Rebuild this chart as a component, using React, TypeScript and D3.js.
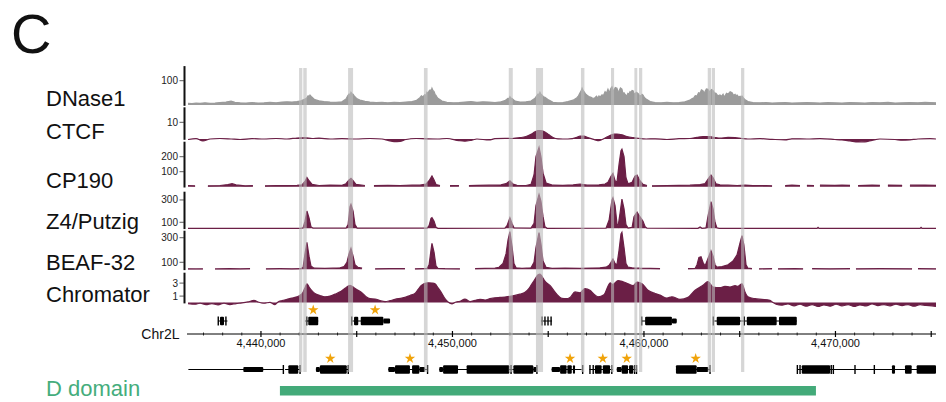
import * as d3 from 'd3';

type Pt = [number, number | null];
type Feature = [string, number, number];

// genomic window shown (kb on Chr2L)
const windowKb: [number, number] = [4436.19, 4475.25];

const trackLabels = ['DNase1', 'CTCF', 'CP190', 'Z4/Putzig', 'BEAF-32', 'Chromator'];

const dnase1Ticks = [100];
const ctcfTicks = [10];
const cp190Ticks = [100, 200];
const z4Ticks = [100, 300];
const beafTicks = [100, 300];
const chromatorTicks = [1, 3];

// [kb, signal]; null = no data
const dnase1Signal: Pt[] = [
  [4436.19, 7], [4436.40, 6], [4436.61, 8], [4436.82, 7], [4437.08, 9], [4437.34, 7], [4437.60, 8], [4437.86, 10],
  [4438.17, 12], [4438.44, 16], [4438.64, 11], [4438.91, 9], [4439.22, 8], [4439.53, 10], [4439.85, 8], [4440.16, 9],
  [4440.47, 11], [4440.79, 9], [4441.10, 12], [4441.36, 13], [4441.62, 12], [4441.88, 14], [4442.09, 17], [4442.30, 24],
  [4442.40, 30], [4442.46, 38], [4442.51, 33], [4442.56, 41], [4442.62, 35], [4442.67, 32], [4442.75, 26], [4442.82, 22],
  [4443.03, 17], [4443.29, 14], [4443.61, 12], [4443.92, 11], [4444.23, 13], [4444.44, 25], [4444.53, 38], [4444.60, 45],
  [4444.65, 40], [4444.70, 52], [4444.76, 46], [4444.81, 44], [4444.88, 36], [4444.96, 30], [4445.05, 24], [4445.17, 20],
  [4445.43, 15], [4445.69, 12], [4446.01, 10], [4446.32, 11], [4446.63, 9], [4446.95, 11], [4447.26, 10], [4447.57, 12],
  [4447.89, 14], [4448.10, 18], [4448.20, 24], [4448.30, 30], [4448.38, 38], [4448.46, 33], [4448.55, 42], [4448.62, 40],
  [4448.67, 52], [4448.72, 47], [4448.78, 58], [4448.83, 62], [4448.88, 56], [4448.93, 69], [4448.98, 60], [4449.04, 55],
  [4449.09, 44], [4449.14, 40], [4449.19, 32], [4449.24, 28], [4449.45, 16], [4449.71, 11], [4450.03, 9], [4450.34, 10],
  [4450.65, 12], [4450.97, 14], [4451.28, 11], [4451.59, 13], [4451.91, 12], [4452.22, 10], [4452.53, 13], [4452.74, 18],
  [4452.90, 28], [4452.95, 24], [4453.00, 34], [4453.05, 29], [4453.11, 27], [4453.27, 16], [4453.53, 12], [4453.84, 13],
  [4454.10, 16], [4454.31, 28], [4454.40, 38], [4454.47, 45], [4454.52, 40], [4454.57, 52], [4454.62, 44], [4454.68, 40],
  [4454.75, 34], [4454.83, 32], [4455.04, 20], [4455.25, 11], [4455.51, 9], [4455.77, 10], [4456.03, 14], [4456.30, 20],
  [4456.50, 30], [4456.58, 38], [4456.66, 50], [4456.72, 58], [4456.77, 69], [4456.82, 60], [4456.87, 55], [4456.95, 46],
  [4457.03, 40], [4457.12, 35], [4457.24, 32], [4457.34, 27], [4457.44, 30], [4457.52, 36], [4457.60, 28], [4457.65, 37],
  [4457.72, 33], [4457.81, 42], [4457.88, 38], [4457.97, 55], [4458.04, 48], [4458.12, 65], [4458.18, 52], [4458.23, 60],
  [4458.28, 70], [4458.33, 75], [4458.39, 58], [4458.44, 62], [4458.50, 72], [4458.59, 69], [4458.64, 55], [4458.70, 58],
  [4458.77, 70], [4458.85, 65], [4458.90, 48], [4458.96, 50], [4459.03, 42], [4459.11, 37], [4459.16, 48], [4459.22, 45],
  [4459.27, 55], [4459.32, 52], [4459.38, 60], [4459.43, 59], [4459.48, 47], [4459.53, 45], [4459.60, 52], [4459.69, 48],
  [4459.76, 40], [4459.85, 38], [4459.90, 44], [4459.95, 41], [4460.03, 30], [4460.11, 25], [4460.32, 14], [4460.58, 10],
  [4460.89, 9], [4461.20, 11], [4461.52, 9], [4461.83, 10], [4462.14, 13], [4462.40, 20], [4462.50, 26], [4462.61, 30],
  [4462.68, 38], [4462.77, 37], [4462.85, 50], [4462.93, 48], [4463.00, 62], [4463.08, 59], [4463.13, 50], [4463.19, 55],
  [4463.26, 66], [4463.34, 65], [4463.40, 54], [4463.45, 58], [4463.53, 64], [4463.61, 59], [4463.68, 50], [4463.76, 48],
  [4463.86, 38], [4463.97, 41], [4464.05, 36], [4464.13, 44], [4464.18, 34], [4464.23, 37], [4464.31, 48], [4464.39, 45],
  [4464.50, 55], [4464.60, 51], [4464.68, 40], [4464.76, 44], [4464.81, 36], [4464.86, 41], [4464.94, 33], [4465.02, 36],
  [4465.07, 30], [4465.12, 37], [4465.20, 28], [4465.28, 22], [4465.43, 14], [4465.69, 10], [4466.06, 9], [4466.37, 10],
  [4466.69, 8], [4467.00, 9], [4467.37, 10], [4467.73, 8], [4468.15, 9], [4468.51, 10], [4468.88, 9], [4469.19, 8],
  [4469.61, 10], [4469.97, 9], [4470.34, 8], [4470.76, 10], [4471.18, 9], [4471.54, 8], [4471.91, 10], [4472.32, 9],
  [4472.74, 11], [4473.11, 8], [4473.48, 9], [4473.89, 10], [4474.31, 9], [4474.68, 11], [4474.94, 10], [4475.25, 9],
];

const ctcfSignal: Pt[] = [
  [4436.19, -0.3], [4436.61, 0.2], [4436.97, -1.2], [4437.34, 0], [4437.86, 0.3], [4438.44, 0], [4438.91, -0.3],
  [4439.53, 0.2], [4440.16, 0], [4440.79, 0.3], [4441.36, 0], [4441.88, 0.6], [4442.30, 0.8], [4442.67, 0.3],
  [4443.03, 0.5], [4443.61, 0], [4444.23, 0.2], [4444.96, 0], [4445.69, 0.3], [4446.32, 0], [4446.63, -0.8],
  [4446.95, -1.6], [4447.26, -1.4], [4447.57, -0.3], [4448.10, 0.3], [4448.62, 0.1], [4449.24, 0], [4449.71, 0.3],
  [4450.34, -1.0], [4450.65, -1.3], [4450.97, -0.8], [4451.28, 0], [4451.91, -0.6], [4452.22, 0.2], [4452.74, 0.4],
  [4453.11, 0.3], [4453.53, 0.8], [4453.84, 1.5], [4454.10, 2.8], [4454.31, 4.3], [4454.47, 5.0], [4454.57, 5.0],
  [4454.83, 4.2], [4455.04, 2.5], [4455.25, 0.9], [4455.51, 0.1], [4456.03, 0], [4456.50, 1.0], [4456.66, 1.8],
  [4456.87, 1.7], [4457.03, 1.0], [4457.24, 0.2], [4457.44, -0.5], [4457.65, -1.0], [4457.81, -0.3], [4458.12, 1.5],
  [4458.44, 2.9], [4458.59, 3.0], [4458.85, 2.5], [4459.11, 1.5], [4459.43, 0.8], [4459.69, 0.4], [4460.11, 0],
  [4460.58, 0.1], [4461.20, -0.3], [4461.83, 0.2], [4462.40, 0.3], [4462.77, 1.0], [4463.08, 1.5], [4463.45, 1.4],
  [4463.76, 0.8], [4463.97, 0.5], [4464.39, 1.0], [4464.76, 0.9], [4465.12, 0.3], [4465.43, 0], [4466.06, 0.2],
  [4466.69, -0.2], [4467.37, -0.5], [4467.73, 0.1], [4468.51, 0], [4469.19, 0.2], [4469.97, -0.3], [4470.34, -0.6],
  [4470.76, -1.2], [4471.18, -1.8], [4471.54, -1.7], [4471.91, -0.8], [4472.32, 0], [4473.11, -0.3], [4473.48, -0.7],
  [4473.89, -0.5], [4474.31, 0], [4474.94, 0.2], [4475.25, 0],
];

const cp190Signal: Pt[] = [
  [4436.19, 8], [4436.56, 6], [4436.87, null], [4437.23, 6], [4437.86, 8], [4438.28, 14], [4438.49, 20], [4438.70, 12],
  [4439.17, 6], [4439.58, 7], [4439.90, null], [4440.21, 6], [4440.79, 8], [4441.36, 7], [4441.88, 9], [4442.14, 12],
  [4442.30, 35], [4442.40, 62], [4442.51, 40], [4442.67, 15], [4443.03, 8], [4443.61, 10], [4444.23, 9], [4444.44, 20],
  [4444.60, 45], [4444.70, 56], [4444.81, 40], [4444.96, 15], [4445.43, 8], [4445.64, null], [4445.90, 7], [4446.63, 9],
  [4447.26, 8], [4447.89, 10], [4448.30, 10], [4448.62, 18], [4448.78, 40], [4448.93, 71], [4449.04, 45], [4449.14, 14],
  [4449.35, 8], [4449.61, null], [4449.87, 7], [4450.34, 8], [4450.60, null], [4450.86, 7], [4451.28, 9], [4451.91, 10],
  [4452.53, 12], [4452.80, 20], [4453.00, 40], [4453.16, 18], [4453.37, 9], [4453.84, 8], [4454.10, 15], [4454.26, 80],
  [4454.36, 200], [4454.52, 262], [4454.62, 200], [4454.73, 90], [4454.89, 25], [4455.25, 10], [4455.77, 9],
  [4456.30, 12], [4456.66, 18], [4457.03, 10], [4457.65, 12], [4457.97, 18], [4458.12, 30], [4458.28, 70],
  [4458.38, 89], [4458.49, 40], [4458.59, 30], [4458.70, 150], [4458.80, 240], [4458.85, 250], [4458.96, 200],
  [4459.06, 60], [4459.17, 20], [4459.38, 30], [4459.53, 70], [4459.64, 78], [4459.79, 40], [4459.95, 15], [4460.16, 8],
  [4460.29, null], [4460.42, 6], [4461.20, 8], [4461.83, 9], [4462.40, 10], [4462.93, 14], [4463.19, 20], [4463.40, 60],
  [4463.50, 78], [4463.61, 60], [4463.76, 20], [4463.97, 12], [4464.39, 10], [4464.86, 8], [4465.28, 10], [4465.69, 7],
  [4466.37, 8], [4466.69, 6], [4467.00, null], [4467.37, 7], [4467.73, 10], [4468.15, 8], [4468.33, null], [4468.51, 9],
  [4468.88, 8], [4469.04, null], [4469.19, 10], [4469.97, 9], [4470.34, 11], [4470.76, 9], [4470.97, null], [4471.18, 8],
  [4471.91, 10], [4472.32, 9], [4472.54, null], [4472.74, 11], [4473.48, 9], [4473.68, null], [4473.89, 10],
  [4474.68, 11], [4475.25, 9],
];

const z4Signal: Pt[] = [
  [4436.19, 46], [4442.04, 46], [4442.20, 50], [4442.30, 110], [4442.40, 201], [4442.51, 140], [4442.61, 60],
  [4442.72, 47], [4444.44, 47], [4444.55, 80], [4444.65, 240], [4444.70, 261], [4444.81, 200], [4444.91, 80],
  [4445.02, 48], [4448.67, 47], [4448.78, 70], [4448.88, 135], [4448.93, 141], [4449.04, 110], [4449.14, 55],
  [4449.24, 46], [4452.74, 47], [4452.85, 70], [4453.00, 141], [4453.11, 90], [4453.21, 50], [4454.10, 48],
  [4454.26, 90], [4454.36, 250], [4454.52, 350], [4454.62, 290], [4454.73, 150], [4454.83, 60], [4454.94, 46],
  [4458.02, 47], [4458.18, 120], [4458.33, 300], [4458.38, 320], [4458.49, 250], [4458.59, 90], [4458.65, 65],
  [4458.75, 180], [4458.85, 308], [4458.96, 220], [4459.06, 80], [4459.17, 48], [4459.38, 55], [4459.48, 150],
  [4459.64, 192], [4459.79, 150], [4459.95, 110], [4460.06, 60], [4460.16, 47], [4462.82, 46], [4462.93, 58],
  [4463.03, 46], [4463.24, 50], [4463.34, 150], [4463.50, 284], [4463.61, 220], [4463.71, 100], [4463.81, 50],
  [4463.92, 46], [4469.04, 46], [4469.09, 55], [4469.14, 46], [4474.42, 46], [4474.47, 55], [4474.52, 46],
  [4475.25, 46],
];

const beafSignal: Pt[] = [
  [4436.19, 47], [4436.61, 46], [4436.97, 47], [4437.29, null], [4437.60, 46], [4438.38, 48], [4438.91, 47],
  [4439.43, 48], [4439.85, null], [4440.26, 47], [4440.99, 48], [4441.62, 47], [4442.09, 48], [4442.20, 60],
  [4442.30, 170], [4442.40, 262], [4442.51, 150], [4442.61, 70], [4442.77, 52], [4443.34, 50], [4443.76, 52],
  [4444.13, 55], [4444.34, 65], [4444.49, 100], [4444.60, 170], [4444.70, 214], [4444.81, 150], [4444.91, 80],
  [4445.07, 58], [4445.28, 52], [4445.59, null], [4445.96, 47], [4446.74, 49], [4447.52, 48], [4447.78, null],
  [4448.04, 47], [4448.46, 49], [4448.67, 50], [4448.78, 80], [4448.88, 200], [4448.93, 254], [4449.04, 180],
  [4449.14, 70], [4449.24, 50], [4449.61, 48], [4450.39, 47], [4450.81, null], [4451.18, 48], [4451.70, 50],
  [4452.22, 52], [4452.43, 60], [4452.64, 90], [4452.80, 170], [4452.90, 280], [4453.00, 349], [4453.11, 230],
  [4453.21, 90], [4453.32, 55], [4453.63, 50], [4454.10, 55], [4454.26, 100], [4454.36, 220], [4454.52, 341],
  [4454.62, 250], [4454.73, 110], [4454.89, 58], [4455.20, 50], [4455.88, 52], [4456.66, 51], [4457.29, 53],
  [4457.70, 55], [4458.02, 60], [4458.18, 75], [4458.28, 100], [4458.38, 127], [4458.49, 90], [4458.59, 80],
  [4458.70, 200], [4458.80, 330], [4458.85, 344], [4458.96, 220], [4459.06, 90], [4459.17, 60], [4459.38, 55],
  [4459.79, 52], [4460.32, 50], [4460.84, 48], [4462.04, null], [4462.30, 48], [4462.67, 50], [4462.77, 80],
  [4462.87, 140], [4462.98, 145], [4463.08, 100], [4463.19, 70], [4463.34, 130], [4463.50, 194], [4463.61, 150],
  [4463.71, 80], [4463.81, 60], [4464.08, 65], [4464.39, 80], [4464.65, 110], [4464.86, 160], [4465.02, 260],
  [4465.12, 316], [4465.22, 240], [4465.33, 80], [4465.43, 52], [4465.64, 48], [4465.80, null], [4466.01, 47],
  [4466.69, 48], [4466.84, null], [4467.00, 47], [4467.89, 48], [4468.31, 47], [4468.57, null], [4468.78, 48],
  [4469.72, 47], [4470.76, 48], [4470.92, null], [4471.07, 47], [4472.32, 48], [4474.00, 47], [4474.15, null],
  [4474.31, 48], [4475.25, 47],
];

const chromatorSignal: Pt[] = [
  [4436.19, -0.15], [4436.56, -0.25], [4436.82, -0.1], [4437.13, -0.3], [4437.44, -0.15], [4437.76, -0.35],
  [4438.07, -0.1], [4438.38, -0.3], [4438.70, -0.15], [4439.01, -0.05], [4439.32, 0.1], [4439.64, 0.35],
  [4439.85, 0.1], [4440.16, -0.1], [4440.47, 0.05], [4440.73, -0.3], [4440.89, 0.1], [4441.10, 0.3], [4441.36, 0.5],
  [4441.62, 0.7], [4441.83, 0.85], [4442.04, 1.15], [4442.20, 1.6], [4442.30, 2.3], [4442.40, 2.9], [4442.51, 2.4],
  [4442.67, 1.8], [4442.82, 1.4], [4443.08, 1.1], [4443.34, 0.9], [4443.61, 1.0], [4443.87, 1.3], [4444.13, 1.65],
  [4444.39, 2.2], [4444.65, 2.65], [4444.86, 2.3], [4445.07, 1.9], [4445.28, 1.5], [4445.49, 0.9], [4445.69, 0.6],
  [4445.96, 0.55], [4446.22, 0.3], [4446.48, 0.15], [4446.74, 0.3], [4447.00, 0.5], [4447.26, 0.65], [4447.52, 0.8],
  [4447.78, 1.1], [4448.04, 1.4], [4448.20, 2.0], [4448.36, 2.6], [4448.51, 2.9], [4448.72, 3.05], [4448.93, 3.0],
  [4449.09, 2.9], [4449.24, 2.3], [4449.45, 1.4], [4449.61, 0.6], [4449.77, 0.1], [4449.98, -0.2], [4450.19, 0.1],
  [4450.39, 0.2], [4450.65, 0.55], [4450.92, 0.15], [4451.18, 0.35], [4451.44, 0.5], [4451.70, 0.4], [4451.96, 0.6],
  [4452.22, 0.75], [4452.48, 0.8], [4452.74, 0.85], [4453.00, 0.95], [4453.27, 1.1], [4453.53, 1.3], [4453.79, 1.6],
  [4454.00, 2.2], [4454.15, 2.9], [4454.31, 3.6], [4454.47, 4.3], [4454.57, 4.4], [4454.68, 4.0], [4454.83, 3.3],
  [4455.09, 2.65], [4455.41, 1.4], [4455.72, 0.65], [4455.93, 0.6], [4456.14, 0.8], [4456.40, 1.65], [4456.66, 1.5],
  [4456.92, 2.15], [4457.18, 1.9], [4457.39, 1.3], [4457.60, 0.9], [4457.91, 1.2], [4458.12, 2.5], [4458.23, 3.05],
  [4458.38, 2.8], [4458.65, 3.4], [4458.91, 3.2], [4459.17, 2.9], [4459.43, 2.6], [4459.64, 3.15], [4459.90, 2.9],
  [4460.21, 1.9], [4460.58, 1.4], [4460.84, 1.15], [4461.20, 0.7], [4461.46, 0.9], [4461.88, 0.5], [4462.30, 0.8],
  [4462.67, 1.9], [4462.93, 2.4], [4463.08, 2.65], [4463.34, 3.25], [4463.61, 2.4], [4463.97, 2.3], [4464.23, 2.5],
  [4464.49, 2.4], [4464.76, 2.6], [4464.91, 2.5], [4465.12, 2.9], [4465.28, 1.6], [4465.43, 0.9], [4465.80, 0.6],
  [4466.16, 0.5], [4466.58, 0.35], [4466.74, 0.0], [4466.90, -0.25], [4467.21, -0.4], [4467.52, -0.2],
  [4467.84, -0.5], [4468.15, -0.25], [4468.46, -0.55], [4468.78, -0.3], [4469.09, -0.6], [4469.40, -0.35],
  [4469.72, -0.55], [4470.03, -0.25], [4470.34, -0.5], [4470.66, -0.3], [4470.97, -0.6], [4471.28, -0.35],
  [4471.60, -0.5], [4471.91, -0.2], [4472.22, -0.45], [4472.54, -0.3], [4472.85, -0.5], [4473.16, -0.25],
  [4473.48, -0.45], [4473.79, -0.3], [4474.10, -0.55], [4474.42, -0.3], [4474.73, -0.45], [4475.04, -0.5],
  [4475.25, -0.6],
];

// highlighted boundary regions [startKb, endKb]
const highlightRegions: [number, number][] = [
  [4441.99, 4442.16], [4442.21, 4442.39], [4444.55, 4444.81], [4448.51, 4448.70], [4452.94, 4453.15],
  [4454.36, 4454.73], [4456.71, 4456.89], [4458.28, 4458.44], [4459.50, 4459.65], [4459.74, 4459.91],
  [4463.33, 4463.50], [4463.54, 4463.71], [4465.07, 4465.24],
];

// gene models: [kind, startKb, endKb]
const upperGenes: Feature[] = [
  ['line', 4437.76, 4438.25], ['tick', 4437.77, 4437.77], ['exon', 4437.86, 4438.07], ['tick', 4438.17, 4438.17],
  ['line', 4442.30, 4442.99], ['tick', 4442.39, 4442.39], ['exon', 4442.47, 4442.99],
  ['line', 4444.74, 4446.74], ['tick', 4444.74, 4444.74], ['exon', 4444.86, 4445.08], ['exon', 4445.21, 4446.39],
  ['utr', 4446.39, 4446.74],
  ['line', 4454.62, 4455.20], ['tick', 4454.68, 4454.68], ['tick', 4454.83, 4454.83], ['tick', 4454.99, 4454.99],
  ['tick', 4455.15, 4455.15],
  ['line', 4459.88, 4461.71], ['tick', 4459.88, 4459.88], ['exon', 4460.06, 4461.46], ['utr', 4461.46, 4461.71],
  ['line', 4463.62, 4467.98], ['tick', 4463.62, 4463.62], ['exon', 4463.80, 4465.02], ['tick', 4465.24, 4465.24],
  ['exon', 4465.37, 4466.93], ['exon', 4467.05, 4467.98],
];

const lowerGenes: Feature[] = [
  ['line', 4436.21, 4441.17], ['utr', 4439.08, 4440.12], ['tick', 4441.17, 4441.17],
  ['line', 4441.26, 4442.04], ['exon', 4441.43, 4441.95], ['tick', 4442.04, 4442.04],
  ['line', 4442.87, 4444.56], ['utr', 4442.87, 4443.08], ['exon', 4443.08, 4444.48], ['tick', 4444.56, 4444.56],
  ['line', 4446.65, 4448.70], ['utr', 4446.65, 4447.00], ['exon', 4447.00, 4447.78], ['exon', 4447.89, 4448.27],
  ['utr', 4448.27, 4448.57], ['tick', 4448.70, 4448.70],
  ['line', 4449.31, 4454.41], ['utr', 4449.31, 4449.51], ['exon', 4449.51, 4450.29], ['exon', 4450.74, 4452.97],
  ['tick', 4453.06, 4453.06], ['exon', 4453.18, 4454.22], ['utr', 4454.22, 4454.40], ['tick', 4454.41, 4454.41],
  ['line', 4455.18, 4456.80], ['utr', 4455.18, 4455.62], ['exon', 4455.62, 4455.96], ['exon', 4456.00, 4456.23],
  ['exon', 4456.29, 4456.40], ['tick', 4456.80, 4456.80],
  ['line', 4457.15, 4458.37], ['tick', 4457.18, 4457.18], ['tick', 4457.35, 4457.35], ['exon', 4457.44, 4457.79],
  ['exon', 4457.85, 4458.23], ['tick', 4458.32, 4458.32],
  ['line', 4458.58, 4459.64], ['utr', 4458.58, 4458.84], ['exon', 4458.84, 4459.17], ['exon', 4459.22, 4459.44],
  ['tick', 4459.51, 4459.51], ['tick', 4459.61, 4459.61],
  ['line', 4461.67, 4463.45], ['exon', 4461.67, 4462.75], ['utr', 4462.75, 4463.36], ['tick', 4463.45, 4463.45],
  ['line', 4468.01, 4475.25], ['tick', 4468.01, 4468.01], ['tick', 4468.15, 4468.15], ['exon', 4468.24, 4469.72],
  ['tick', 4469.78, 4469.78], ['tick', 4469.89, 4469.89], ['tick', 4471.02, 4471.02], ['tick', 4472.03, 4472.03],
  ['exon', 4472.95, 4473.11], ['exon', 4473.63, 4473.98], ['exon', 4474.24, 4475.25],
];

const upperStars = [4442.73, 4445.96];
const lowerStars = [4443.62, 4447.78, 4456.14, 4457.85, 4459.10, 4462.70];

const axisLabelKb = [4440, 4450, 4460, 4470];
const dDomainKb: [number, number] = [4440.99, 4468.98];

const MAROON = '#6b1f46';
const FONT = "'Liberation Sans', Arial, Helvetica, sans-serif";

export default function App() {
  const x = d3.scaleLinear().domain(windowKb).range([188, 936]);

  const tracks = [
    { label: trackLabels[0], data: dnase1Signal, domain: [0, 160], range: [105, 66.1], base: 0, ticks: dnase1Ticks, color: '#9b9b9b', labelY: 106, curve: d3.curveLinear },
    { label: trackLabels[1], data: ctcfSignal, domain: [0, 19], range: [139, 107.3], base: 0, ticks: ctcfTicks, color: MAROON, labelY: 138.5, curve: d3.curveMonotoneX },
    { label: trackLabels[2], data: cp190Signal, domain: [0, 300], range: [186.7, 141.7], base: 0, ticks: cp190Ticks, color: MAROON, labelY: 188, curve: d3.curveLinear },
    { label: trackLabels[3], data: z4Signal, domain: [46, 374], range: [228.3, 191.7], base: 46, ticks: z4Ticks, color: MAROON, labelY: 229, curve: d3.curveLinear },
    { label: trackLabels[4], data: beafSignal, domain: [43, 357], range: [269.3, 230.7], base: 43, ticks: beafTicks, color: MAROON, labelY: 270, curve: d3.curveLinear },
    { label: trackLabels[5], data: chromatorSignal, domain: [0, 4.6], range: [302.6, 272.7], base: 0, ticks: chromatorTicks, color: MAROON, labelY: 302, curve: d3.curveMonotoneX },
  ];

  const axisY = 334;
  const minorTicks = d3.range(4437, 4476, 1);
  const fmt = d3.format(',');
  const star = d3.symbol(d3.symbolStar, 34)() as string;

  const drawGenes = (feats: Feature[], cy: number, key: string) =>
    feats.map((f, i) => {
      const [kind, s, e] = f;
      if (kind === 'line') {
        return <line key={key + i} x1={x(s)} x2={x(e)} y1={cy} y2={cy} stroke="#000" strokeWidth={1} />;
      }
      if (kind === 'tick') {
        return <rect key={key + i} x={x(s) - 0.7} y={cy - 4.5} width={1.4} height={9} fill="#000" />;
      }
      const h = kind === 'exon' ? 8.5 : 5;
      return <rect key={key + i} x={x(s)} y={cy - h / 2} width={Math.max(0.8, x(e) - x(s))} height={h} rx={1} fill="#000" />;
    });

  return (
    <svg width={946} height={402} style={{ position: 'absolute', left: 0, top: 0, background: '#fff' }} fontFamily={FONT}>
      <rect width={946} height={402} fill="#fff" />
      <text x={11} y={53} fontSize={56} fontWeight={300} fill="#111">C</text>

      {tracks.map((t) => {
        const y = d3.scaleLinear().domain(t.domain).range(t.range);
        const area = d3.area<Pt>()
          .defined((d) => d[1] !== null)
          .curve(t.curve)
          .x((d) => x(d[0]))
          .y0(y(t.base))
          .y1((d) => y(d[1] as number));
        const line = d3.line<Pt>()
          .defined((d) => d[1] !== null)
          .curve(t.curve)
          .x((d) => x(d[0]))
          .y((d) => y(d[1] as number));
        const top = y(t.domain[1]);
        const bottom = y(t.base);
        return (
          <g key={t.label}>
            <text x={46} y={t.labelY} fontSize={22} fill="#111">{t.label}</text>
            <rect x={183.5} y={top} width={2} height={bottom - top + 0.8} fill="#111" />
            {t.ticks.map((v) => (
              <g key={v}>
                <line x1={179.5} x2={184} y1={y(v)} y2={y(v)} stroke="#333" strokeWidth={0.8} />
                <text x={178} y={y(v)} dy="0.35em" textAnchor="end" fontSize={10} fill="#222">{v}</text>
              </g>
            ))}
            <path d={area(t.data) || ''} fill={t.color} />
            <path d={line(t.data) || ''} fill="none" stroke={t.color} strokeWidth={1.2} />
          </g>
        );
      })}

      {/* upper gene row */}
      {drawGenes(upperGenes, 321, 'u')}

      {/* coordinate axis */}
      <text x={179.5} y={axisY + 5} fontSize={14} textAnchor="end" fill="#111">Chr2L</text>
      <line x1={187} x2={936} y1={axisY} y2={axisY} stroke="#000" strokeWidth={1} />
      {minorTicks.map((k) => {
        const major = k % 5 === 0;
        return (
          <line key={k} x1={x(k)} x2={x(k)} y1={axisY - (major ? 3 : 1.5)} y2={axisY + (major ? 3 : 1.5)} stroke="#000" strokeWidth={major ? 1.2 : 0.8} />
        );
      })}
      {axisLabelKb.map((k) => (
        <text key={k} x={x(k)} y={axisY + 13} fontSize={11} textAnchor="middle" fill="#111">{fmt(k * 1000)}</text>
      ))}

      {/* lower gene row */}
      {drawGenes(lowerGenes, 369.5, 'l')}

      {/* highlighted boundaries */}
      {highlightRegions.map(([s, e], i) => (
        <rect key={i} x={x(s)} y={68} width={x(e) - x(s)} height={304} fill="#bbbbbb" opacity={0.6} />
      ))}

      {upperStars.map((k, i) => (
        <path key={'us' + i} d={star} transform={`translate(${x(k)},310)`} fill="#f0a30a" />
      ))}
      {lowerStars.map((k, i) => (
        <path key={'ls' + i} d={star} transform={`translate(${x(k)},358.5)`} fill="#f0a30a" />
      ))}

      <text x={46} y={396} fontSize={22} fill="#45ad7c">D domain</text>
      <rect x={x(dDomainKb[0])} y={386} width={x(dDomainKb[1]) - x(dDomainKb[0])} height={9.5} fill="#43aa79" />
    </svg>
  );
}
